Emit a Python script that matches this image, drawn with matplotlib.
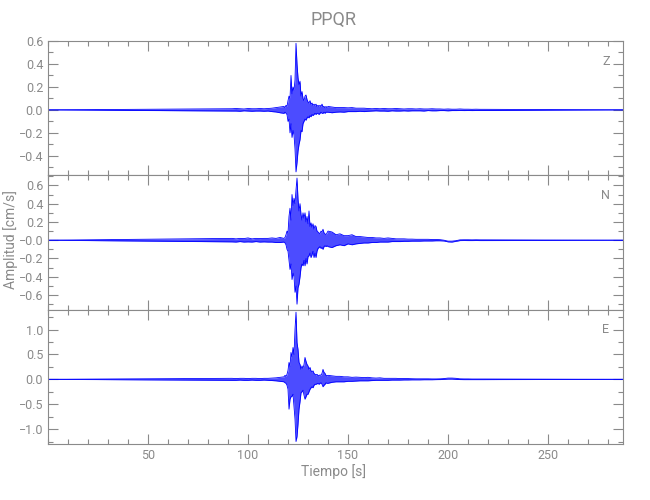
import numpy as np
import matplotlib
matplotlib.use('Agg')
from matplotlib import pyplot as plt
from matplotlib.ticker import MultipleLocator, FixedLocator, FixedFormatter

###### Data (envelope values) ######

station = 'PPQR'
components = ['Z', 'N', 'E']

# sample times (s)
t_pre = np.arange(92, 118, 2)        # pre-event noise
t_burst = np.arange(118, 140, 0.5)   # main burst
t_post = np.arange(140, 220, 2)      # coda
t_start, t_end = 0.0, 287.5

z_pre_up = [0.01, 0.012, 0.01, 0.008, 0.012, 0.01, 0.01, 0.012, 0.01, 0.012, 0.015, 0.02, 0.025]
z_pre_lo = [-0.01, -0.01, -0.012, -0.008, -0.01, -0.012, -0.01, -0.01, -0.012, -0.01, -0.015, -0.018, -0.025]
z_up = [0.03, 0.02, 0.04, 0.03, 0.08, 0.12, 0.10, 0.30, 0.14, 0.20, 0.17, 0.26, 0.58, 0.40, 0.28, 0.22,
        0.25, 0.12, 0.16, 0.10, 0.08, 0.12, 0.13, 0.09, 0.07, 0.06, 0.08, 0.05, 0.06, 0.04, 0.05, 0.04,
        0.05, 0.03, 0.04, 0.03, 0.04, 0.03, 0.05, 0.03, 0.03, 0.02, 0.03, 0.02]
z_lo = [-0.03, -0.02, -0.03, -0.04, -0.10, -0.08, -0.20, -0.12, -0.24, -0.18, -0.22, -0.34, -0.54, -0.46,
        -0.36, -0.30, -0.26, -0.18, -0.19, -0.12, -0.10, -0.08, -0.09, -0.07, -0.06, -0.07, -0.05, -0.06,
        -0.04, -0.05, -0.04, -0.03, -0.04, -0.03, -0.03, -0.04, -0.03, -0.02, -0.03, -0.03, -0.02, -0.03,
        -0.02, -0.02]
z_post_up = [0.03, 0.025, 0.02, 0.02, 0.02, 0.018, 0.02, 0.015, 0.015, 0.015, 0.012, 0.01, 0.012, 0.01,
             0.012, 0.01, 0.01, 0.012, 0.01, 0.008, 0.01, 0.01, 0.008, 0.01, 0.008, 0.008, 0.01, 0.008,
             0.008, 0.006, 0.008, 0.006, 0.006, 0.008, 0.006, 0.006, 0.005, 0.006, 0.005, 0.005]
z_post_lo = [-0.02, -0.025, -0.02, -0.018, -0.02, -0.015, -0.015, -0.015, -0.012, -0.015, -0.012, -0.01,
             -0.008, -0.01, -0.01, -0.012, -0.008, -0.01, -0.01, -0.008, -0.01, -0.008, -0.008, -0.008,
             -0.01, -0.006, -0.008, -0.008, -0.006, -0.006, -0.008, -0.006, -0.006, -0.005, -0.006,
             -0.005, -0.006, -0.005, -0.005, -0.005]

n_pre_up = [0.02, 0.015, 0.02, 0.018, 0.025, 0.015, 0.02, 0.018, 0.02, 0.02, 0.025, 0.02, 0.03]
n_pre_lo = [-0.018, -0.02, -0.015, -0.02, -0.018, -0.02, -0.015, -0.02, -0.018, -0.02, -0.02, -0.025, -0.025]
n_up = [0.02, 0.03, 0.06, 0.10, 0.08, 0.26, 0.35, 0.22, 0.50, 0.38, 0.46, 0.40, 0.55, 0.68, 0.45, 0.32,
        0.40, 0.28, 0.22, 0.30, 0.24, 0.30, 0.20, 0.26, 0.18, 0.32, 0.15, 0.19, 0.14, 0.18, 0.12, 0.16,
        0.15, 0.10, 0.09, 0.08, 0.07, 0.10, 0.09, 0.12, 0.08, 0.07, 0.06, 0.08]
n_lo = [-0.02, -0.03, -0.05, -0.10, -0.12, -0.22, -0.32, -0.26, -0.43, -0.36, -0.40, -0.57, -0.50, -0.70,
        -0.52, -0.48, -0.40, -0.30, -0.26, -0.28, -0.22, -0.28, -0.20, -0.26, -0.18, -0.17, -0.14, -0.19,
        -0.16, -0.12, -0.19, -0.14, -0.19, -0.12, -0.09, -0.08, -0.07, -0.09, -0.08, -0.10, -0.07, -0.06,
        -0.07, -0.06]
n_post_up = [0.10, 0.09, 0.06, 0.07, 0.05, 0.05, 0.06, 0.04, 0.04, 0.035, 0.03, 0.03, 0.025, 0.025, 0.02,
             0.025, 0.02, 0.015, 0.015, 0.015, 0.012, 0.012, 0.01, 0.01, 0.01, 0.01, 0.008, 0.008, 0.006,
             0.0, -0.01, -0.01, -0.005, 0.004, 0.005, 0.005, 0.004, 0.005, 0.004, 0.004]
n_post_lo = [-0.07, -0.08, -0.06, -0.05, -0.06, -0.04, -0.05, -0.04, -0.035, -0.03, -0.03, -0.025, -0.025,
             -0.02, -0.02, -0.02, -0.015, -0.015, -0.015, -0.012, -0.012, -0.01, -0.01, -0.01, -0.008,
             -0.008, -0.008, -0.006, -0.006, -0.008, -0.018, -0.02, -0.012, -0.004, -0.003, -0.004,
             -0.004, -0.003, -0.004, -0.004]

e_pre_up = [0.02, 0.015, 0.02, 0.02, 0.015, 0.02, 0.02, 0.015, 0.02, 0.02, 0.025, 0.03, 0.04]
e_pre_lo = [-0.02, -0.02, -0.015, -0.02, -0.02, -0.015, -0.02, -0.02, -0.015, -0.02, -0.025, -0.03, -0.04]
e_up = [0.05, 0.08, 0.06, 0.10, 0.18, 0.34, 0.26, 0.54, 0.45, 0.64, 0.50, 1.00, 1.35, 0.74, 0.60, 0.34,
        0.30, 0.20, 0.27, 0.22, 0.30, 0.44, 0.36, 0.30, 0.27, 0.20, 0.24, 0.17, 0.15, 0.17, 0.12, 0.10,
        0.09, 0.10, 0.08, 0.07, 0.09, 0.08, 0.12, 0.20, 0.14, 0.12, 0.08, 0.07]
e_lo = [-0.05, -0.07, -0.08, -0.12, -0.20, -0.60, -0.40, -0.35, -0.34, -0.30, -0.55, -0.80, -1.25, -1.15,
        -0.90, -0.60, -0.45, -0.27, -0.25, -0.22, -0.32, -0.40, -0.35, -0.30, -0.30, -0.25, -0.20, -0.17,
        -0.15, -0.17, -0.12, -0.10, -0.10, -0.09, -0.08, -0.10, -0.08, -0.07, -0.10, -0.15, -0.12, -0.10,
        -0.07, -0.08]
e_post_up = [0.08, 0.07, 0.06, 0.06, 0.05, 0.05, 0.04, 0.045, 0.04, 0.035, 0.04, 0.03, 0.025, 0.03, 0.02,
             0.02, 0.02, 0.02, 0.015, 0.015, 0.015, 0.012, 0.01, 0.01, 0.01, 0.01, 0.008, 0.008, 0.01,
             0.015, 0.025, 0.025, 0.02, 0.01, 0.008, 0.008, 0.006, 0.006, 0.006, 0.006]
e_post_lo = [-0.08, -0.06, -0.05, -0.05, -0.05, -0.04, -0.04, -0.035, -0.03, -0.03, -0.03, -0.025, -0.02,
             -0.02, -0.02, -0.02, -0.015, -0.015, -0.015, -0.012, -0.012, -0.01, -0.01, -0.01, -0.008,
             -0.008, -0.008, -0.006, -0.005, 0.0, 0.005, 0.005, 0.0, -0.005, -0.006, -0.006, -0.006,
             -0.006, -0.006, -0.006]

ylims = [(-0.57, 0.60), (-0.76, 0.71), (-1.30, 1.40)]
ymajor = [0.2, 0.2, 0.5]
yminor = [0.1, 0.1, 0.25]
xticks = [50, 100, 150, 200, 250]

###### Plot ######

grey = '#8a8a8a'
blue = '#0000ff'
plt.rcParams['font.family'] = ['Roboto', 'DejaVu Sans']


def trace(pre_up, pre_lo, up, lo, post_up, post_lo):
    t = np.concatenate([[t_start], t_pre, t_burst, t_post, [t_end]])
    hi = np.concatenate([[0.0], pre_up, up, post_up, [0.0]])
    low = np.concatenate([[0.0], pre_lo, lo, post_lo, [0.0]])
    return t, hi, low


traces = [trace(z_pre_up, z_pre_lo, z_up, z_lo, z_post_up, z_post_lo),
          trace(n_pre_up, n_pre_lo, n_up, n_lo, n_post_up, n_post_lo),
          trace(e_pre_up, e_pre_lo, e_up, e_lo, e_post_up, e_post_lo)]

fig, axes = plt.subplots(3, 1, sharex=True, figsize=(6.5, 5), dpi=100)
fig.subplots_adjust(left=48/650, right=623/650, top=1-41/500, bottom=1-444/500, hspace=0)

for i, ax in enumerate(axes):
    t, hi, low = traces[i]
    ax.fill_between(t, low, hi, color=blue, alpha=0.7, lw=0)
    ax.plot(t, hi, color=blue, lw=0.6)
    ax.plot(t, low, color=blue, lw=0.6)
    ax.set_xlim(t_start, t_end)
    ax.set_ylim(*ylims[i])
    ax.xaxis.set_major_locator(FixedLocator(xticks))
    ax.xaxis.set_minor_locator(MultipleLocator(10))
    ax.yaxis.set_major_locator(MultipleLocator(ymajor[i]))
    ax.yaxis.set_minor_locator(MultipleLocator(yminor[i]))
    ax.tick_params(which='both', direction='in', top=True, right=True, colors=grey,
                   labelcolor=grey, labelsize=9, width=0.8)
    ax.tick_params(which='major', length=7)
    ax.tick_params(which='minor', length=3.5)
    for s in ax.spines.values():
        s.set_color(grey)
        s.set_linewidth(0.8)
    ax.text(0.97, 0.85, components[i], transform=ax.transAxes, color=grey,
            fontsize=9, ha='center', va='center')

# middle panel shows "-0.0" like the original
mid_ticks = [-0.6, -0.4, -0.2, 0.0, 0.2, 0.4, 0.6]
axes[1].yaxis.set_major_locator(FixedLocator(mid_ticks))
axes[1].yaxis.set_major_formatter(FixedFormatter(['\u22120.6', '\u22120.4', '\u22120.2', '\u22120.0', '0.2', '0.4', '0.6']))

fig.text(0.513, 1-20/500, station, ha='center', va='center', color=grey, fontsize=13)
fig.text(0.513, 1-472/500, 'Tiempo [s]', ha='center', va='center', color=grey, fontsize=10)
fig.text(11/650, 1-240/500, 'Amplitud [cm/s]', ha='center', va='center', rotation=90,
         color=grey, fontsize=10)

plt.savefig('out.png', dpi=100)
